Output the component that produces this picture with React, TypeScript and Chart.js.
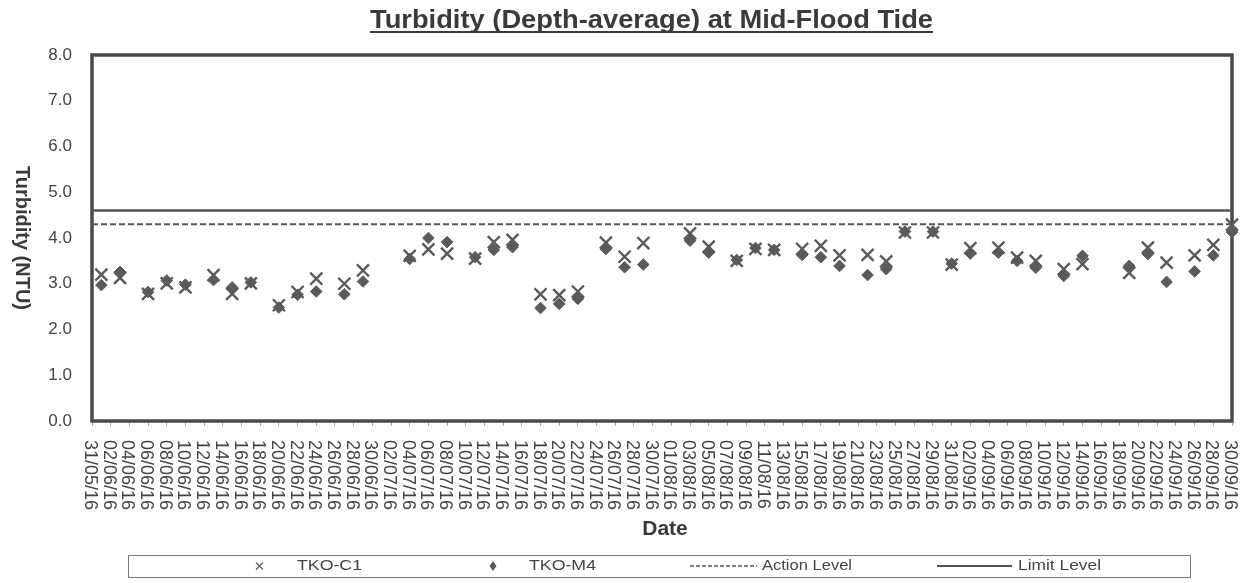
import React, { useEffect, useRef } from 'react';
import { Chart, registerables } from 'chart.js';

Chart.register(...registerables);

// ---------- data ----------
const CHART_TITLE = 'Turbidity (Depth-average) at Mid-Flood Tide';
const Y_TITLE = 'Turbidity (NTU)';
const X_TITLE = 'Date';

const START_DATE = '31/05/16';
const END_DATE = '30/09/16';
const X_TICK_STEP_DAYS = 2;

const Y_MIN = 0;
const Y_MAX = 8;
const Y_STEP = 1;

const sampleDates = [
  '01/06/16', '03/06/16', '06/06/16', '08/06/16', '10/06/16', '13/06/16', '15/06/16', '17/06/16',
  '20/06/16', '22/06/16', '24/06/16', '27/06/16', '29/06/16',
  '04/07/16', '06/07/16', '08/07/16', '11/07/16', '13/07/16', '15/07/16', '18/07/16', '20/07/16',
  '22/07/16', '25/07/16', '27/07/16', '29/07/16',
  '03/08/16', '05/08/16', '08/08/16', '10/08/16', '12/08/16', '15/08/16', '17/08/16', '19/08/16',
  '22/08/16', '24/08/16', '26/08/16', '29/08/16', '31/08/16',
  '02/09/16', '05/09/16', '07/09/16', '09/09/16', '12/09/16', '14/09/16', '19/09/16', '21/09/16',
  '23/09/16', '26/09/16', '28/09/16', '30/09/16',
];

const tkoC1 = [
  3.20, 3.13, 2.78, 3.01, 2.92, 3.19, 2.78, 3.01,
  2.53, 2.82, 3.11, 3.00, 3.29,
  3.61, 3.75, 3.66, 3.55, 3.91, 3.96, 2.77, 2.75,
  2.83, 3.90, 3.59, 3.89,
  4.10, 3.81, 3.50, 3.76, 3.74, 3.76, 3.83, 3.62,
  3.63, 3.49, 4.12, 4.12, 3.42,
  3.78, 3.79, 3.57, 3.50, 3.32, 3.43, 3.24, 3.79,
  3.46, 3.62, 3.85, 4.29,
];

const tkoM4 = [
  2.97, 3.26, 2.82, 3.07, 2.98, 3.08, 2.92, 3.03,
  2.48, 2.76, 2.83, 2.77, 3.05,
  3.54, 4.00, 3.91, 3.58, 3.74, 3.80, 2.47, 2.56,
  2.67, 3.76, 3.36, 3.42,
  3.94, 3.68, 3.52, 3.78, 3.74, 3.63, 3.58, 3.39,
  3.19, 3.32, 4.14, 4.14, 3.44,
  3.66, 3.68, 3.50, 3.35, 3.17, 3.61, 3.39, 3.65,
  3.04, 3.27, 3.62, 4.13,
];

const ACTION_LEVEL = 4.3;
const LIMIT_LEVEL = 4.6;

// ---------- helpers ----------
const DAY_MS = 86400000;
function parseDMY(s: string): number {
  const [d, m, y] = s.split('/').map(Number);
  return Date.UTC(2000 + y, m - 1, d);
}
const T0 = parseDMY(START_DATE);
const dayIndex = (s: string) => Math.round((parseDMY(s) - T0) / DAY_MS);
const LAST_DAY = dayIndex(END_DATE);
function formatDay(i: number): string {
  const dt = new Date(T0 + i * DAY_MS);
  const dd = String(dt.getUTCDate()).padStart(2, '0');
  const mm = String(dt.getUTCMonth() + 1).padStart(2, '0');
  const yy = String(dt.getUTCFullYear() % 100).padStart(2, '0');
  return `${dd}/${mm}/${yy}`;
}

const INK = '#3a3a3a';
const MARK = '#5a5a5a';
const FONT = '"Liberation Sans", Arial, Helvetica, sans-serif';

function fitText(ctx: CanvasRenderingContext2D, text: string, x: number, y: number, align: CanvasTextAlign, targetW: number) {
  const w = ctx.measureText(text).width;
  const sx = targetW / w;
  ctx.save();
  ctx.translate(x, y);
  ctx.scale(sx, 1);
  ctx.textAlign = align;
  ctx.fillText(text, 0, 0);
  ctx.restore();
}

const framePlugin = {
  id: 'frame',
  beforeDatasetsDraw(chart: any) {
    const { ctx, chartArea } = chart;
    ctx.save();
    ctx.strokeStyle = '#4a4a4a';
    ctx.lineWidth = 3.5;
    ctx.strokeRect(chartArea.left, chartArea.top, chartArea.right - chartArea.left, chartArea.bottom - chartArea.top);
    ctx.restore();
  },
};

const textPlugin = {
  id: 'texts',
  afterDraw(chart: any) {
    const { ctx, chartArea, scales } = chart;
    const xs = scales.x;
    ctx.save();
    ctx.fillStyle = INK;

    // Title (bold, underlined)
    ctx.font = `bold 25px ${FONT}`;
    ctx.textBaseline = 'alphabetic';
    const tLeft = 370, tRight = 933, tBase = 28;
    fitText(ctx, CHART_TITLE, (tLeft + tRight) / 2, tBase, 'center', tRight - tLeft);
    ctx.strokeStyle = INK;
    ctx.lineWidth = 2;
    ctx.beginPath();
    ctx.moveTo(tLeft, tBase + 4);
    ctx.lineTo(tRight, tBase + 4);
    ctx.stroke();

    // Y axis title, rotated clockwise
    ctx.save();
    ctx.font = `bold 20px ${FONT}`;
    ctx.translate(22, (chartArea.top + chartArea.bottom) / 2);
    ctx.rotate(Math.PI / 2);
    ctx.textAlign = 'center';
    ctx.textBaseline = 'middle';
    ctx.fillText(Y_TITLE, 0, 0);
    ctx.restore();

    // X tick labels, rotated clockwise
    ctx.font = `18px ${FONT}`;
    ctx.fillStyle = '#444';
    for (const t of xs.ticks) {
      const px = xs.getPixelForValue(t.value);
      ctx.save();
      ctx.translate(px - 2, chartArea.bottom + 19);
      ctx.rotate(Math.PI / 2);
      ctx.textAlign = 'left';
      ctx.textBaseline = 'middle';
      ctx.fillText(formatDay(t.value), 0, 0);
      ctx.restore();
    }

    // X axis title
    ctx.fillStyle = INK;
    ctx.font = `bold 21px ${FONT}`;
    ctx.textAlign = 'center';
    ctx.textBaseline = 'middle';
    ctx.fillText(X_TITLE, (chartArea.left + chartArea.right) / 2 + 3, 529);

    // Legend
    const ds = chart.data.datasets;
    const ly = 566;
    ctx.strokeStyle = '#7a7a7a';
    ctx.lineWidth = 1;
    ctx.strokeRect(128.5, 555.5, 1062, 22);
    ctx.font = `14px ${FONT}`;
    ctx.textBaseline = 'middle';
    ctx.fillStyle = '#444';

    // C1 marker (x)
    ctx.strokeStyle = ds[0].borderColor;
    ctx.lineWidth = 1.2;
    ctx.beginPath();
    ctx.moveTo(256, ly - 3.5); ctx.lineTo(263, ly + 3.5);
    ctx.moveTo(263, ly - 3.5); ctx.lineTo(256, ly + 3.5);
    ctx.stroke();
    fitText(ctx, ds[0].label, 297, ly, 'left', 65);

    // M4 marker (diamond)
    ctx.fillStyle = ds[1].backgroundColor;
    ctx.beginPath();
    ctx.moveTo(493, ly - 5); ctx.lineTo(496.5, ly); ctx.lineTo(493, ly + 5); ctx.lineTo(489.5, ly);
    ctx.closePath();
    ctx.fill();
    ctx.fillStyle = '#444';
    fitText(ctx, ds[1].label, 529, ly, 'left', 67);

    // Action level
    ctx.strokeStyle = ds[2].borderColor;
    ctx.lineWidth = 1.5;
    ctx.setLineDash([4, 2]);
    ctx.beginPath();
    ctx.moveTo(690, ly); ctx.lineTo(757, ly);
    ctx.stroke();
    ctx.setLineDash([]);
    fitText(ctx, ds[2].label, 762, ly, 'left', 90);

    // Limit level
    ctx.strokeStyle = ds[3].borderColor;
    ctx.lineWidth = 2;
    ctx.beginPath();
    ctx.moveTo(937, ly); ctx.lineTo(1012, ly);
    ctx.stroke();
    fitText(ctx, ds[3].label, 1018, ly, 'left', 83);

    ctx.restore();
  },
};

export default function App() {
  const ref = useRef<HTMLCanvasElement | null>(null);

  useEffect(() => {
    document.body.style.margin = '0';
    document.body.style.background = '#fff';
    const canvas = ref.current;
    if (!canvas) return;

    const c1Points = sampleDates.map((d, i) => ({ x: dayIndex(d), y: tkoC1[i] }));
    const m4Points = sampleDates.map((d, i) => ({ x: dayIndex(d), y: tkoM4[i] }));

    const chart = new Chart(canvas, {
      type: 'line',
      data: {
        datasets: [
          {
            label: 'TKO-C1',
            data: c1Points,
            showLine: false,
            pointStyle: 'crossRot',
            pointRadius: 8.5,
            pointBorderWidth: 2.4,
            borderColor: MARK,
            backgroundColor: MARK,
            pointBorderColor: MARK,
            pointBackgroundColor: MARK,
            clip: false,
          },
          {
            label: 'TKO-M4',
            data: m4Points,
            showLine: false,
            pointStyle: 'rectRot',
            pointRadius: 5.8,
            pointBorderWidth: 1,
            borderColor: MARK,
            backgroundColor: MARK,
            pointBorderColor: MARK,
            pointBackgroundColor: MARK,
            clip: false,
          },
          {
            label: 'Action Level',
            data: [{ x: 0, y: ACTION_LEVEL }, { x: LAST_DAY, y: ACTION_LEVEL }],
            borderColor: '#555',
            backgroundColor: '#555',
            borderWidth: 2,
            borderDash: [6, 3],
            pointRadius: 0,
          },
          {
            label: 'Limit Level',
            data: [{ x: 0, y: LIMIT_LEVEL }, { x: LAST_DAY, y: LIMIT_LEVEL }],
            borderColor: '#555',
            backgroundColor: '#555',
            borderWidth: 2.5,
            pointRadius: 0,
          },
        ],
      },
      options: {
        responsive: false,
        animation: false,
        events: [],
        layout: { padding: { top: 55, right: 18, left: 0, bottom: 0 } },
        plugins: {
          legend: { display: false },
          title: { display: false },
          tooltip: { enabled: false },
        },
        scales: {
          x: {
            type: 'linear',
            min: 0,
            max: LAST_DAY,
            grid: { display: true, drawOnChartArea: false, drawTicks: true, tickLength: 5, color: '#aaa', lineWidth: 1 },
            border: { display: false },
            ticks: { display: false, stepSize: X_TICK_STEP_DAYS },
            afterFit: (s: any) => { s.height = 162; },
          },
          y: {
            type: 'linear',
            min: Y_MIN,
            max: Y_MAX,
            grid: { display: false, drawTicks: false },
            border: { display: false },
            ticks: {
              stepSize: Y_STEP,
              padding: 20,
              color: '#444',
              font: { family: FONT, size: 17 },
              callback: (v: any) => Number(v).toFixed(1),
            },
            afterFit: (s: any) => { s.width = 92; },
          },
        },
      },
      plugins: [framePlugin, textPlugin],
    } as any);

    return () => chart.destroy();
  }, []);

  return <canvas ref={ref} width={1250} height={583} style={{ display: 'block' }} />;
}
